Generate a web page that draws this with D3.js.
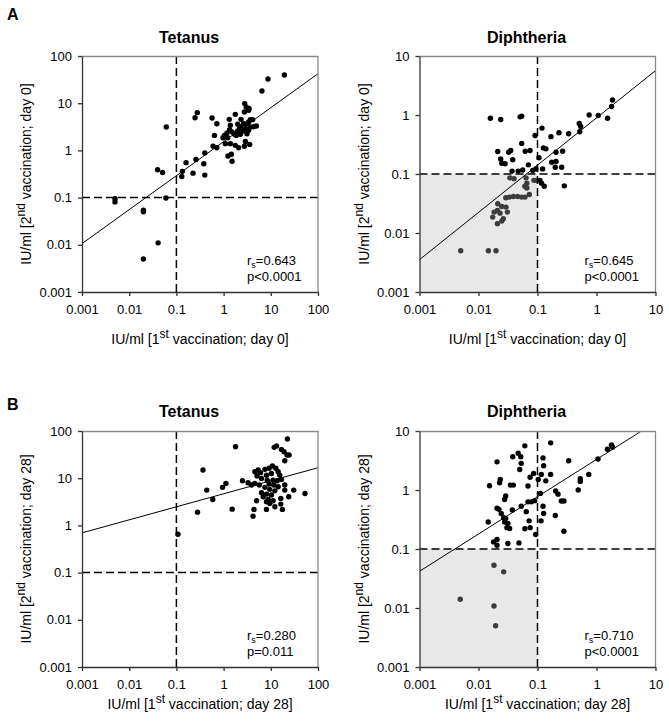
<!DOCTYPE html>
<html>
<head>
<meta charset="utf-8">
<script src="https://cdnjs.cloudflare.com/ajax/libs/d3/7.8.5/d3.min.js"></script>
<style>
	body { margin: 0; background: #ffffff; }
</style>
</head>
<body>
<div id="my_dataviz"></div>
<script>

//Tetanus, Tag 0 (1. Impfung / 2. Impfung)
var tetD0First = [19.4, 8.7, 6.5, 2.8, 3.0, 3.45, 2.75, 1.77, 3.4, 0.57, 1.32, 2.34, 3.68, 0.72, 1.39, 1.99, 2.66, 3.4, 4.13, 4.94,
	1.34, 2.26, 2.89, 3.68, 4.34, 0.64, 1.04, 1.18, 1.51, 1.99, 2.57, 3.4, 0.97, 1.22, 1.86, 2.26, 3.13, 0.6, 0.72, 1.09,
	1.39, 1.77, 2.08, 2.75, 3.57, 1.46, 1.24, 1.51, 0.4, 0.26, 0.16, 0.38, 0.225, 0.4, 0.134, 0.13, 0.04, 0.051, 0.061, 0.277,
	0.248, 0.005, 0.005, 0.02, 0.02, 0.06, 0.041, 0.02, 2.2, 3.1, 1.7, 2.9];
var tetD0Second = [39.6, 32.6, 18.1, 9.8, 8.3, 7.7, 6.5, 5.8, 7.1, 4.86, 4.55, 4.55, 4.48, 3.68, 3.4, 3.57, 3.68, 4.0, 4.48, 3.29,
	2.75, 3.13, 2.88, 3.13, 3.18, 2.08, 2.08, 2.34, 2.45, 2.58, 2.58, 2.66, 1.86, 1.86, 2.08, 2.19, 2.26, 1.22, 1.14, 1.39,
	1.39, 1.28, 1.14, 1.22, 1.34, 0.83, 0.76, 0.59, 0.88, 0.64, 0.55, 0.52, 0.33, 0.3, 0.36, 0.28, 0.39, 0.34, 3.13, 6.3,
	4.9, 0.095, 0.081, 0.054, 0.05, 0.098, 0.011, 0.005, 2.9, 3.6, 2.2, 1.55];

//Diphtherie, Tag 0
var dipD0First = [0.0159, 0.0238, 0.0506, 0.054, 0.119, 0.091, 0.169, 0.231, 0.337, 0.054, 0.126, 0.139, 0.0212, 0.0325, 0.0352,
	0.062, 0.0747, 0.206, 0.267, 0.106, 0.0238, 0.0248, 0.0282, 0.038, 0.07, 0.174, 0.206, 0.2, 0.257, 0.094, 0.122, 0.037,
	0.047, 0.056, 0.083, 0.034, 0.04, 0.064, 0.066, 0.087, 0.095, 0.11, 0.117, 0.13, 0.285, 0.061, 0.066, 0.029, 0.0334,
	0.039, 0.046, 0.054, 0.0615, 0.0727, 0.0212, 0.0248, 0.0293, 0.0209, 0.0184, 0.0232, 0.0309, 0.0174, 0.0264, 0.0248,
	0.0209, 0.005, 0.0147, 0.0198, 0.51, 0.54, 0.52, 0.75, 1.07, 1.54, 1.8, 1.87];
var dipD0Second = [0.88, 0.84, 0.93, 0.95, 0.6, 0.45, 0.43, 0.5, 0.48, 0.33, 0.277, 0.267, 0.24, 0.234, 0.25,
	0.243, 0.25, 0.234, 0.243, 0.188, 0.18, 0.152, 0.149, 0.174, 0.143, 0.158, 0.163, 0.13, 0.13, 0.122, 0.122, 0.112,
	0.112, 0.117, 0.115, 0.086, 0.083, 0.086, 0.07, 0.078, 0.078, 0.078, 0.07, 0.062, 0.063, 0.062, 0.058, 0.0395, 0.0406,
	0.0416, 0.0416, 0.0406, 0.0406, 0.045, 0.0313, 0.0282, 0.0275, 0.0241, 0.0226, 0.0217, 0.0226, 0.0186, 0.0174, 0.0159,
	0.0144, 0.005, 0.005, 0.005, 0.72, 0.64, 0.52, 1.0, 0.98, 0.88, 1.39, 1.8];

//Tetanus, Tag 28
var tetD28First = [22.5, 1.79, 11.8, 13.2, 16.8, 19.1, 22.1, 24.4, 19.8, 0.366, 0.44, 0.59, 0.95, 1.12, 0.28, 1.52, 2.52, 3.3, 3.9,
	4.6, 5.7, 0.108, 4.2, 4.4, 8.1, 12.2, 17.6, 16.3, 16.3, 24, 30.6, 53, 19.8, 19.8, 4.6, 5.4, 6.05, 7.5, 9.2, 10.8, 12.8,
	14.3, 15.5, 10.3, 8.1, 5.1, 6.35, 8.4, 11.2, 13.6, 16.8, 9.2, 11.6, 14.3, 7.5, 9.5, 12.2, 6.35, 8.1, 10.3, 6.9, 8.8,
	11.2, 5.0, 8.1, 9.5];
var tetD28Second = [67.7, 46.5, 45, 48, 40.8, 36.4, 31, 31, 23.5, 14.9, 5.6, 3.55, 6.4, 7.75, 1.91, 2.21, 8.8, 8.0, 7.2,
	7.75, 7.2, 0.65, 1.57, 2.18, 2.18, 2.48, 2.18, 2.83, 3.73, 4.05, 5.6, 4.75, 7.2, 5.6, 13.7, 14.9, 13.1, 15.4, 16.2, 18.1, 16.2,
	13.7, 11.6, 12.6, 11.6, 11.1, 9.9, 9.1, 9.1, 8.8, 9.4, 7.5, 7.2, 6.6, 6.4, 5.8, 5.4, 4.9, 4.6, 4.4, 4.05, 3.55,
	3.33, 3.33, 3.17, 2.92];

//Diphtherie, Tag 28
var dipD28First = [0.167, 0.061, 0.338, 0.038, 0.047, 0.052, 0.053, 0.05, 0.0206, 0.124, 0.127, 0.116, 0.138, 0.167, 0.086,
	0.075, 0.103, 0.0234, 0.0228, 0.0154, 0.0346, 0.039, 0.069, 0.112, 0.203, 0.223, 0.254, 0.28, 0.49, 0.53, 0.53, 0.74,
	1.06, 1.53, 1.79, 1.87, 0.0289, 0.0277, 0.069, 0.0785, 0.0895, 0.053, 0.0374, 0.0206, 0.0222, 0.0243, 0.0267, 0.0289,
	0.0315, 0.0303, 0.0337, 0.0277, 0.0645, 0.072, 0.075, 0.061, 0.124, 0.127, 0.115, 0.2, 0.28, 0.093, 0.0146, 0.018,
	0.0206, 0.0206, 0.0315, 0.0485, 0.0183, 0.0267, 0.0049, 0.0183, 0.0195];
var dipD28Second = [6.3, 5.6, 3.13, 3.67, 4.2, 3.67, 2.83, 2.23, 3.0, 3.5, 2.58, 1.84, 1.43, 1.84, 1.91,
	1.64, 1.51, 1.51, 1.33, 1.18, 1.21, 1.21, 1.17, 0.875, 0.96, 0.85, 0.65, 0.65, 1.0, 1.55, 1.4, 1.84,
	3.35, 4.9, 5.8, 5.3, 0.79, 0.69, 0.63, 0.63, 0.66, 0.53, 0.46, 0.49, 0.47, 0.4, 0.34, 0.33,
	0.27, 0.23, 0.223, 0.286, 0.43, 0.3, 0.23, 0.22, 0.53, 0.4, 0.3, 0.37, 0.2, 0.176, 0.286, 0.132,
	0.145, 0.116, 0.124, 0.127, 0.053, 0.041, 0.0141, 0.0108, 0.005];

//Regressionsgeraden (log10 y = a + b * log10 x)
var fitIntercept = [0.185, -0.049, 0.670, 0.518];
var fitSlope = [0.720, 0.801, 0.276, 0.632];

//Beschriftungen
var panelTitles = ["Tetanus", "Diphtheria", "Tetanus", "Diphtheria"];
var rsLabels = ["=0.643", "=0.645", "=0.280", "=0.710"];
var pLabels = ["p<0.0001", "p<0.0001", "p=0.011", "p<0.0001"];
var dayLabels = ["0", "0", "28", "28"];
var ticksTet = [0.001, 0.01, 0.1, 1, 10, 100];
var ticksDip = [0.001, 0.01, 0.1, 1, 10];
var tickLabelsTet = ["0.001", "0.01", "0.1", "1", "10", "100"];
var tickLabelsDip = ["0.001", "0.01", "0.1", "1", "10"];
var cutoff = 0.1;

var font = "Arial, 'Liberation Sans', sans-serif";

var svg = d3.select("#my_dataviz")
	.append("svg")
	.attr("width", 669)
	.attr("height", 727)
	.style("background", "#ffffff");

function createPanel(idx, xs, ys, ticks, tickLabels, shade, pos) {

	var width = 236, height = 236;
	var g = svg.append("g")
		.attr("transform", "translate(" + pos.left + "," + pos.top + ")");

	var x = d3.scaleLog()
		.domain([ticks[0], ticks[ticks.length - 1]])
		.range([0, width]);
	var y = d3.scaleLog()
		.domain([ticks[0], ticks[ticks.length - 1]])
		.range([height, 0]);

	//Clip fuer die Gerade
	g.append("clipPath")
		.attr("id", "clip" + idx)
		.append("rect")
		.attr("width", width)
		.attr("height", height);

	//grauer Bereich unter dem Schwellenwert
	if (shade) {
		g.append("rect")
			.attr("x", x(ticks[0]))
			.attr("y", y(cutoff))
			.attr("width", x(cutoff) - x(ticks[0]))
			.attr("height", y(ticks[0]) - y(cutoff))
			.attr("fill", "#e8e8e8");
	}

	//Punkte
	g.selectAll("circle")
		.data(xs)
		.enter()
		.append("circle")
		.attr("cx", function(d) { return x(d) })
		.attr("cy", function(d, i) { return y(ys[i]) })
		.attr("r", 2.7)
		.attr("fill", function(d, i) {
			return (shade && d < cutoff && ys[i] < cutoff) ? "#3c3c3c" : "#000000";
		});

	//gestrichelte Linien bei 0.1
	g.append("line")
		.attr("x1", 0).attr("x2", width)
		.attr("y1", y(cutoff)).attr("y2", y(cutoff))
		.attr("stroke", "#000").attr("stroke-width", 1.5)
		.attr("stroke-dasharray", "8,4");
	g.append("line")
		.attr("x1", x(cutoff)).attr("x2", x(cutoff))
		.attr("y1", 0).attr("y2", height)
		.attr("stroke", "#000").attr("stroke-width", 1.5)
		.attr("stroke-dasharray", "8,4");

	//Regressionsgerade
	var lx = [Math.log10(ticks[0]), Math.log10(ticks[ticks.length - 1])];
	g.append("line")
		.attr("clip-path", "url(#clip" + idx + ")")
		.attr("x1", x(ticks[0]))
		.attr("y1", y(Math.pow(10, fitIntercept[idx] + fitSlope[idx] * lx[0])))
		.attr("x2", x(ticks[ticks.length - 1]))
		.attr("y2", y(Math.pow(10, fitIntercept[idx] + fitSlope[idx] * lx[1])))
		.attr("stroke", "#000")
		.attr("stroke-width", 1);

	//Rahmen oben/rechts
	g.append("path")
		.attr("d", "M0,0.5H" + width + "V" + height)
		.attr("fill", "none")
		.attr("stroke", "#8a8a8a")
		.attr("stroke-width", 1.3);

	//X Achse
	var xAxis = g.append("g")
		.attr("transform", "translate(0," + height + ")")
		.call(d3.axisBottom(x)
			.tickValues(ticks)
			.tickFormat(function(d, i) { return tickLabels[i] })
			.tickSize(4)
			.tickSizeOuter(0)
			.tickPadding(9));

	//Y Achse
	var yAxis = g.append("g")
		.call(d3.axisLeft(y)
			.tickValues(ticks)
			.tickFormat(function(d, i) { return tickLabels[i] })
			.tickSize(4)
			.tickSizeOuter(0)
			.tickPadding(6));

	[xAxis, yAxis].forEach(function(a) {
		a.selectAll("path, line").attr("stroke", "#333").attr("stroke-width", 1.3);
		a.selectAll("text")
			.style("font-family", font)
			.style("font-size", "13px")
			.attr("fill", "#000");
	});

	//Ueberschrift
	g.append("text")
		.attr("x", width / 2 - 11)
		.attr("y", pos.titleY - pos.top)
		.attr("text-anchor", "middle")
		.text(panelTitles[idx])
		.style("font-family", font)
		.style("font-weight", "bold")
		.style("font-size", "16px");

	//X-Beschriftung
	var xt = g.append("text")
		.attr("x", width / 2)
		.attr("y", pos.xTitleY - pos.top)
		.attr("text-anchor", "middle")
		.style("font-family", font)
		.style("font-size", "14px");
	xt.append("tspan").text("IU/ml [1");
	xt.append("tspan").attr("dy", -6).style("font-size", "12px").text("st");
	xt.append("tspan").attr("dy", 6).text(" vaccination; day " + dayLabels[idx] + "]");

	//Y-Beschriftung
	var yt = g.append("text")
		.attr("transform", "translate(-51," + (height / 2) + ")rotate(-90)")
		.attr("text-anchor", "middle")
		.style("font-family", font)
		.style("font-size", "14px");
	yt.append("tspan").text("IU/ml [2");
	yt.append("tspan").attr("dy", -6).style("font-size", "12px").text("nd");
	yt.append("tspan").attr("dy", 6).text(" vaccination; day " + dayLabels[idx] + "]");

	//Korrelation
	var rs = g.append("text")
		.attr("x", width - 71)
		.attr("y", height - 27)
		.style("font-family", font)
		.style("font-size", "13px");
	rs.append("tspan").text("r");
	rs.append("tspan").attr("dy", 3).style("font-size", "9px").text("s");
	rs.append("tspan").attr("dy", -3).text(rsLabels[idx]);

	g.append("text")
		.attr("x", width - 71)
		.attr("y", height - 11)
		.text(pLabels[idx])
		.style("font-family", font)
		.style("font-size", "13px");
}

//Buchstaben A / B
svg.append("text").attr("x", 7).attr("y", 20).text("A")
	.style("font-family", font).style("font-weight", "bold").style("font-size", "16px");
svg.append("text").attr("x", 7).attr("y", 410).text("B")
	.style("font-family", font).style("font-weight", "bold").style("font-size", "16px");

createPanel(0, tetD0First, tetD0Second, ticksTet, tickLabelsTet, false,
	{ left: 82, top: 56, titleY: 43, xTitleY: 344 });
createPanel(1, dipD0First, dipD0Second, ticksDip, tickLabelsDip, true,
	{ left: 419.5, top: 56, titleY: 43, xTitleY: 344 });
createPanel(2, tetD28First, tetD28Second, ticksTet, tickLabelsTet, false,
	{ left: 82, top: 431, titleY: 417, xTitleY: 709 });
createPanel(3, dipD28First, dipD28Second, ticksDip, tickLabelsDip, true,
	{ left: 419.5, top: 431, titleY: 417, xTitleY: 709 });

</script>
</body>
</html>
